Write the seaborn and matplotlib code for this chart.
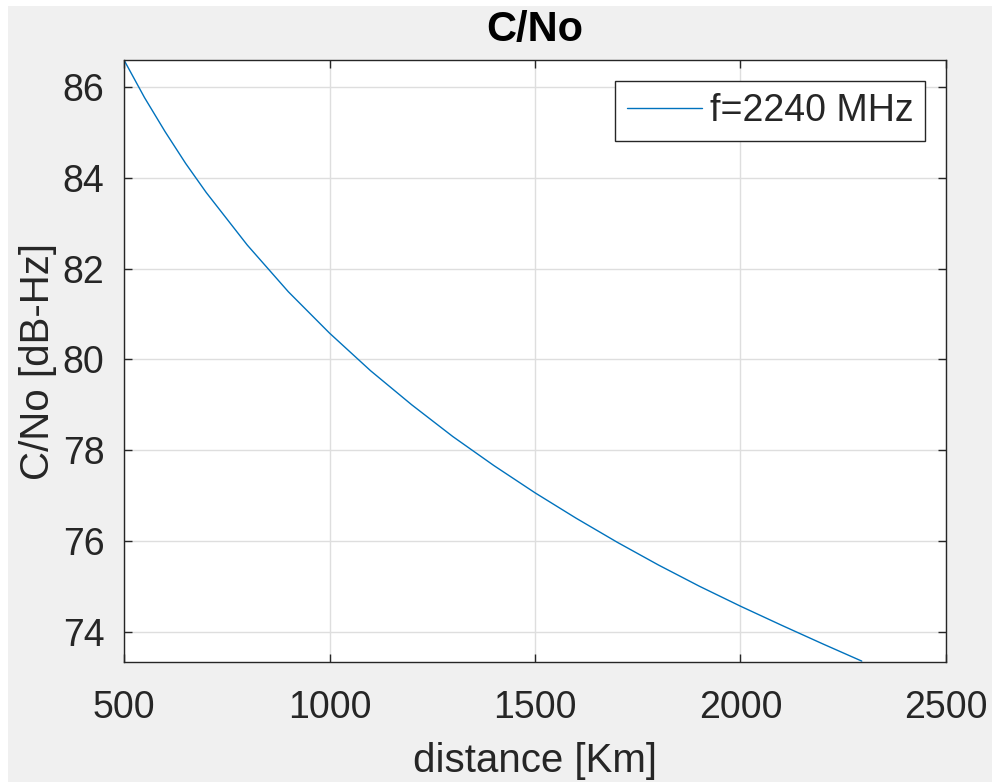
import matplotlib
matplotlib.use("Agg")
import matplotlib.pyplot as plt
import seaborn as sns
import pandas as pd
from matplotlib.patches import Rectangle

# Data
distance_km = [500, 550, 600, 650, 700, 800, 900, 1000, 1100, 1200, 1300, 1400,
               1500, 1600, 1700, 1800, 1900, 2000, 2100, 2200, 2295]
cno_dbhz = [86.60, 85.77, 85.02, 84.32, 83.68, 82.52, 81.49, 80.58, 79.75, 79.00,
            78.30, 77.66, 77.06, 76.50, 75.97, 75.47, 75.00, 74.56, 74.14, 73.73,
            73.35]
series_label = "f=2240 MHz"
x_ticks = [500, 1000, 1500, 2000, 2500]
y_ticks = [74, 76, 78, 80, 82, 84, 86]

sns.set_style("ticks")
plt.rcParams['font.family'] = ['Liberation Sans', 'DejaVu Sans']

df = pd.DataFrame({"distance": distance_km, "cno": cno_dbhz, "label": series_label})

fig = plt.figure(figsize=(9.95, 7.82), dpi=100, facecolor="white")
fig.patches.append(Rectangle((8 / 995, 0), 984 / 995, 776 / 782,
                             transform=fig.transFigure, facecolor="#f0f0f0",
                             edgecolor="none", zorder=-10))
ax = fig.add_axes([124 / 995, (782 - 662) / 782, (946 - 124) / 995, (662 - 60) / 782])
ax.set_facecolor("white")

sns.lineplot(data=df, x="distance", y="cno", hue="label", palette=["#0072BD"],
             linewidth=1.0, ax=ax)

ax.set_xlim(500, 2500)
ax.set_ylim(73.33, 86.6)
ax.set_xticks(x_ticks)
ax.set_yticks(y_ticks)
ax.grid(True, color="#dedede", linewidth=1.0)
ax.set_axisbelow(True)

tick_color = "#262626"
ax.tick_params(axis="both", direction="in", length=6, width=1.0, color=tick_color,
               labelsize=27, labelcolor=tick_color, top=True, right=True)
ax.tick_params(axis="x", pad=20)
ax.tick_params(axis="y", pad=14)
for s in ax.spines.values():
    s.set_color(tick_color)
    s.set_linewidth(1.0)

ax.set_xlabel("distance [Km]", fontsize=29, color=tick_color, labelpad=12)
ax.set_ylabel("C/No [dB-Hz]", fontsize=29, color=tick_color, labelpad=4)
ax.set_title("C/No", fontsize=30, fontweight="bold", color="black", pad=14)

leg = ax.legend(loc="upper right", fontsize=27, frameon=True, fancybox=False,
                edgecolor="#262626", framealpha=1.0, handlelength=2.0,
                handletextpad=0.2, borderpad=0.32, borderaxespad=0.55)
leg.get_frame().set_linewidth(1.0)
leg.set_title(None)

fig.savefig("out.png", dpi=100, facecolor=fig.get_facecolor())
